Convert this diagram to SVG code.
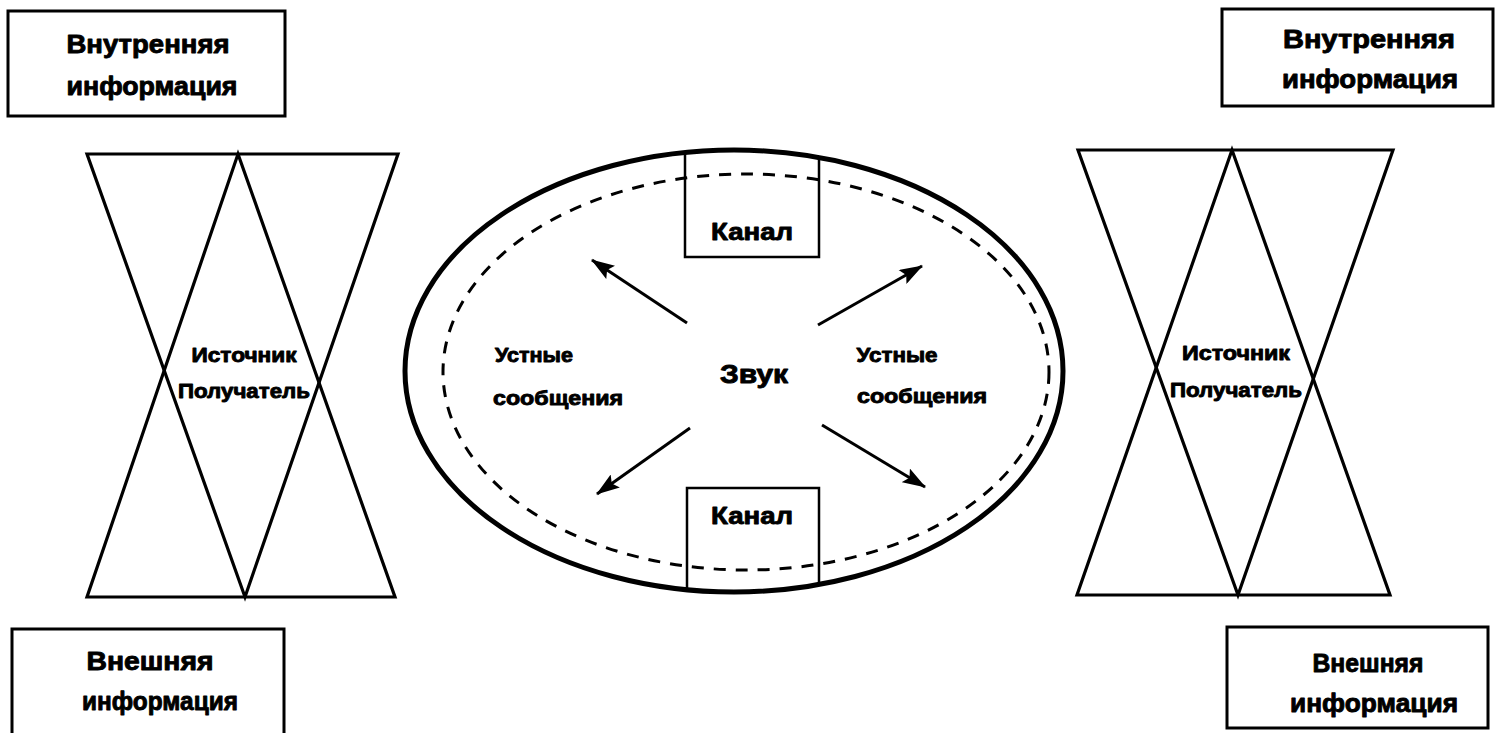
<svg xmlns="http://www.w3.org/2000/svg" width="1506" height="733" viewBox="0 0 1506 733">
<defs>
<style>
.box{fill:#fff;stroke:#000;stroke-width:3}
.t{font-family:"Liberation Sans",Arial,sans-serif;font-weight:bold;fill:#000;stroke:#000;stroke-width:0.9;stroke-linejoin:round;text-anchor:middle}
.big{font-size:26px}
.mid{font-size:20px}
.hg{fill:none;stroke:#000;stroke-width:3.2;stroke-linejoin:miter}
.arr{stroke:#000;stroke-width:3;fill:none;marker-end:url(#ah)}
.ch{fill:none;stroke:#000;stroke-width:2.5}
</style>
<marker id="ah" viewBox="0 0 22 15" refX="21" refY="7.5" markerWidth="24" markerHeight="16" markerUnits="userSpaceOnUse" orient="auto">
<path d="M0,0 L22,7.5 L0,15 L4,7.5 Z" fill="#000"/>
</marker>
</defs>
<rect width="1506" height="733" fill="#fff"/>

<g id="inner-left">
<rect class="box" x="8" y="11" width="277" height="105"/>
<text class="t big" x="148" y="53" textLength="163" lengthAdjust="spacingAndGlyphs">Внутренняя</text>
<text class="t big" x="152" y="95" textLength="171" lengthAdjust="spacingAndGlyphs">информация</text>
</g>

<g id="inner-right">
<rect class="box" x="1222" y="9" width="271" height="97"/>
<text class="t big" x="1369" y="48" textLength="172" lengthAdjust="spacingAndGlyphs">Внутренняя</text>
<text class="t big" x="1370" y="88" textLength="176" lengthAdjust="spacingAndGlyphs">информация</text>
</g>

<g id="outer-left">
<rect class="box" x="12" y="629" width="272" height="110"/>
<text class="t big" x="150" y="670" textLength="127" lengthAdjust="spacingAndGlyphs">Внешняя</text>
<text class="t big" x="160" y="710" textLength="156" lengthAdjust="spacingAndGlyphs">информация</text>
</g>

<g id="outer-right">
<rect class="box" x="1227" y="627" width="261" height="101"/>
<text class="t big" x="1368" y="672" textLength="111" lengthAdjust="spacingAndGlyphs">Внешняя</text>
<text class="t big" x="1374" y="712" textLength="168" lengthAdjust="spacingAndGlyphs">информация</text>
</g>

<g id="hourglass-left">
<polygon class="hg" points="87,154 398,154 245,597"/>
<polygon class="hg" points="238,154 395,597 87,597"/>
<text class="t mid" x="244" y="362" textLength="105" lengthAdjust="spacingAndGlyphs">Источник</text>
<text class="t mid" x="244" y="398" textLength="132" lengthAdjust="spacingAndGlyphs">Получатель</text>
</g>

<g id="hourglass-right">
<polygon class="hg" points="1078,150 1393,150 1238,595"/>
<polygon class="hg" points="1232,150 1390,595 1077,595"/>
<text class="t mid" x="1236" y="360" textLength="108" lengthAdjust="spacingAndGlyphs">Источник</text>
<text class="t mid" x="1236" y="397" textLength="132" lengthAdjust="spacingAndGlyphs">Получатель</text>
</g>

<g id="sound-field">
<ellipse cx="734" cy="371" rx="329" ry="221" fill="#fff" stroke="none"/>
<ellipse cx="746" cy="372" rx="303" ry="198" fill="none" stroke="#000" stroke-width="3" stroke-dasharray="12 10"/>
<text class="t" x="754" y="383" font-size="26" textLength="68" lengthAdjust="spacingAndGlyphs">Звук</text>
<text class="t mid" x="534" y="362" textLength="78" lengthAdjust="spacingAndGlyphs">Устные</text>
<text class="t mid" x="558" y="405" textLength="130" lengthAdjust="spacingAndGlyphs">сообщения</text>
<text class="t mid" x="897" y="362" textLength="81" lengthAdjust="spacingAndGlyphs">Устные</text>
<text class="t mid" x="922" y="403" textLength="130" lengthAdjust="spacingAndGlyphs">сообщения</text>
</g>

<g id="channel-top">
<path class="ch" d="M685,152 L685,257 L819,257 L819,157"/>
<text class="t" x="752" y="240" font-size="24" textLength="82" lengthAdjust="spacingAndGlyphs">Канал</text>
</g>

<g id="channel-bottom">
<path class="ch" d="M687,590 L687,488 L819,488 L819,585"/>
<text class="t" x="752" y="524" font-size="24" textLength="82" lengthAdjust="spacingAndGlyphs">Канал</text>
</g>

<g id="field-outline">
<ellipse cx="734" cy="371" rx="329" ry="221" fill="none" stroke="#000" stroke-width="5"/>
</g>

<g id="connectors">
<line class="arr" x1="687" y1="323" x2="592" y2="260"/>
<line class="arr" x1="818" y1="325" x2="922" y2="266"/>
<line class="arr" x1="690" y1="428" x2="597" y2="494"/>
<line class="arr" x1="822" y1="425" x2="925" y2="487"/>
</g>
</svg>
